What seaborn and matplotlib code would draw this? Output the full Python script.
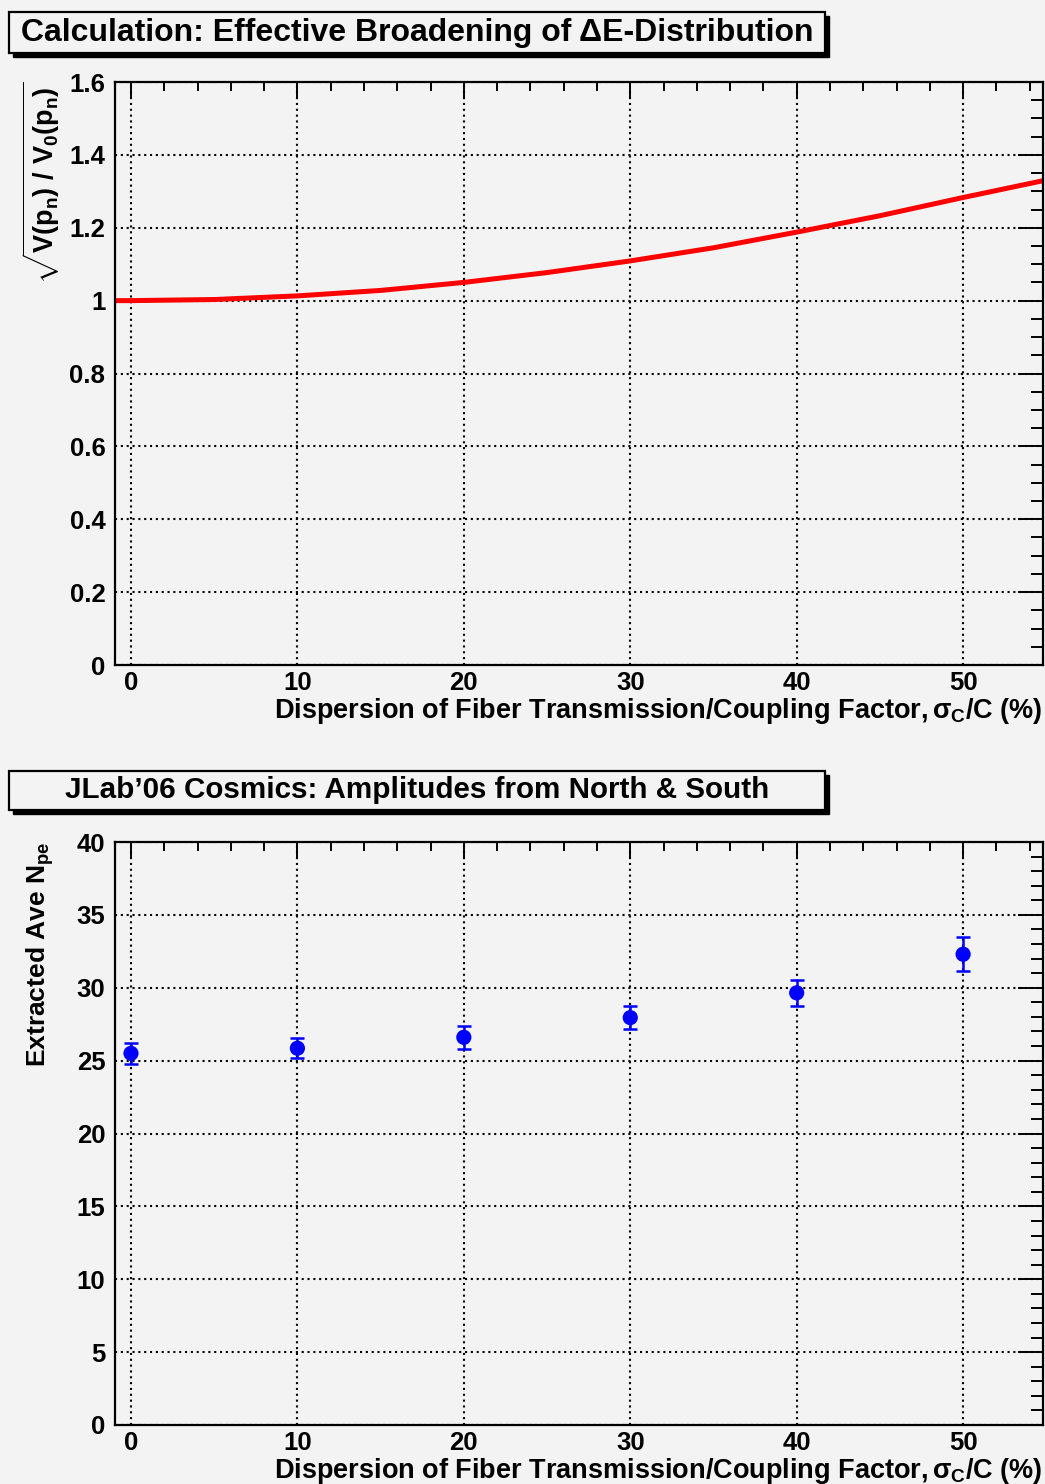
import matplotlib
matplotlib.use('Agg')
import matplotlib.pyplot as plt
from matplotlib.patches import Rectangle
from matplotlib.ticker import MultipleLocator
import numpy as np
import pandas as pd
import seaborn as sns

# data
sigma_curve = [-1, 0, 5, 10, 15, 20, 25, 30, 35, 40, 45, 50, 55]
broadening = [1.0, 1.0, 1.003, 1.013, 1.028, 1.050, 1.077, 1.109, 1.145, 1.188, 1.233, 1.283, 1.331]

sigma_pts = [0, 10, 20, 30, 40, 50]
npe = [25.5, 25.85, 26.6, 27.95, 29.65, 32.3]
npe_err = [0.7, 0.7, 0.8, 0.8, 0.9, 1.15]

top_title = 'Calculation: Effective Broadening of \u0394E-Distribution'
bot_title = 'JLab\u201906 Cosmics: Amplitudes from North & South'
xlab = r'Dispersion of Fiber Transmission/Coupling Factor,$\,\sigma_{C}$/C (%)'
ylab_top = r'$\sqrt{V(p_{n})\ /\ V_{0}(p_{n})}$'
ylab_bot = r'Extracted Ave N$_{pe}$'

bg = '#f3f3f3'

sns.set_style('white')
plt.rcParams['font.family'] = ['Liberation Sans', 'DejaVu Sans']
plt.rcParams['font.weight'] = 'bold'
plt.rcParams['text.color'] = 'black'
plt.rcParams['axes.labelcolor'] = 'black'
plt.rcParams['xtick.color'] = 'black'
plt.rcParams['ytick.color'] = 'black'
plt.rcParams['mathtext.fontset'] = 'custom'
plt.rcParams['mathtext.rm'] = 'Liberation Sans:bold'
plt.rcParams['mathtext.it'] = 'Liberation Sans:bold'
plt.rcParams['mathtext.bf'] = 'Liberation Sans:bold'

W, H = 1045, 1484
fig = plt.figure(figsize=(W / 100, H / 100), dpi=100, facecolor=bg)


def px_axes(l, t, r, b):
    return fig.add_axes([l / W, 1 - b / H, (r - l) / W, (b - t) / H])


def style_axes(ax, ymaj, ymin):
    ax.set_facecolor(bg)
    ax.set_xlim(-0.96, 54.8)
    ax.xaxis.set_major_locator(MultipleLocator(10))
    ax.xaxis.set_minor_locator(MultipleLocator(2))
    ax.yaxis.set_major_locator(MultipleLocator(ymaj))
    ax.yaxis.set_minor_locator(MultipleLocator(ymin))
    for s in ax.spines.values():
        s.set_color('black')
        s.set_linewidth(1.6)
    ax.tick_params(axis='both', which='both', direction='in', top=True, right=True,
                   labelsize=18.5, width=1.4, colors='black')
    ax.tick_params(axis='y', which='major', length=18, pad=7)
    ax.tick_params(axis='y', which='minor', length=9)
    ax.tick_params(axis='x', which='major', length=12, pad=4)
    ax.tick_params(axis='x', which='minor', length=6.5)
    ax.grid(True, which='major', color='black', linestyle=(0, (1, 1.8)), linewidth=1.5)
    ax.set_axisbelow(True)
    for lab in ax.get_xticklabels() + ax.get_yticklabels():
        lab.set_fontweight('bold')
    ax.set_xlabel(xlab, fontsize=19.5, fontweight='bold', loc='right')
    ax.xaxis.set_label_coords(1.0, -0.054)


def title_box(text, t, b, size):
    fig.patches.append(Rectangle(((9 + 4) / W, 1 - (b + 4) / H), 816 / W, (b - t) / H,
                                 transform=fig.transFigure, facecolor='black',
                                 edgecolor='black', zorder=1))
    fig.patches.append(Rectangle((9 / W, 1 - b / H), 816 / W, (b - t) / H,
                                 transform=fig.transFigure, facecolor=bg,
                                 edgecolor='black', linewidth=1.6, zorder=2))
    fig.text(417 / W, 1 - (t + b) / 2 / H, text, ha='center', va='center',
             fontsize=size, fontweight='bold', zorder=3)


# top panel
ax1 = px_axes(115, 82, 1043, 665)
df_curve = pd.DataFrame({'sigma': sigma_curve, 'ratio': broadening})
sns.lineplot(data=df_curve, x='sigma', y='ratio', ax=ax1, color='#ff0000', linewidth=3.6)
ax1.set_ylim(0, 1.6)
style_axes(ax1, 0.2, 0.05)
ax1.set_yticks([0, 0.2, 0.4, 0.6, 0.8, 1.0, 1.2, 1.4, 1.6])
ax1.set_yticklabels(['0', '0.2', '0.4', '0.6', '0.8', '1', '1.2', '1.4', '1.6'],
                    fontweight='bold')
ax1.set_ylabel(ylab_top, fontsize=19.5, loc='top')
ax1.yaxis.set_label_coords(-0.057, 1.0)

# bottom panel
ax2 = px_axes(115, 842, 1043, 1425)
df_pts = pd.DataFrame({'sigma': sigma_pts, 'npe': npe, 'err': npe_err})
ax2.errorbar(df_pts['sigma'], df_pts['npe'], yerr=df_pts['err'], fmt='none',
             ecolor='#0000ff', elinewidth=1.8, capsize=5, capthick=1.8, zorder=3)
sns.scatterplot(data=df_pts, x='sigma', y='npe', ax=ax2, color='#0000ff', s=120,
                edgecolor='none', zorder=4)
ax2.set_ylim(0, 40)
style_axes(ax2, 5, 1)
ax2.set_ylabel(ylab_bot, fontsize=19, fontweight='bold', loc='top')
ax2.yaxis.set_label_coords(-0.064, 1.0)

title_box(top_title, 12, 53, 23)
title_box(bot_title, 771, 810, 21.3)

fig.savefig('out.png', dpi=100, facecolor=bg)
